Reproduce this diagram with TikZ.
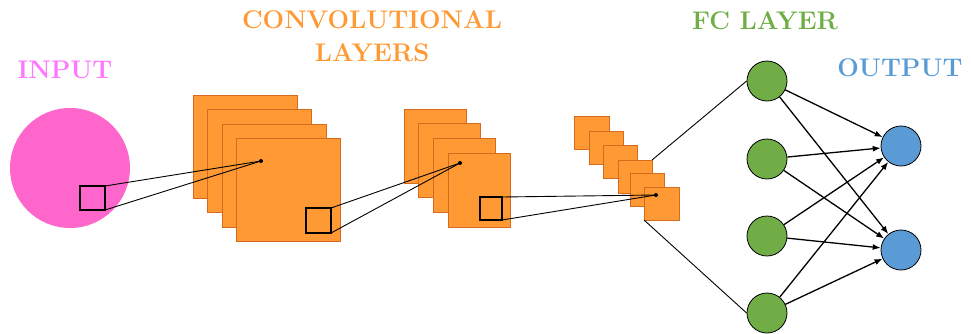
\documentclass[tikz,border=0pt]{standalone}
\usetikzlibrary{arrows.meta}
\definecolor{inpink}{RGB}{255,102,204}
\definecolor{inlabel}{RGB}{255,119,255}
\definecolor{convorange}{RGB}{255,153,51}
\definecolor{convedge}{RGB}{214,106,30}
\definecolor{fcgreen}{RGB}{112,173,71}
\definecolor{outblue}{RGB}{91,155,213}
\tikzset{
  fmap/.style={draw=convedge, fill=convorange, line width=0.8pt, inner sep=0pt, outer sep=0pt, anchor=north west, rectangle},
  kernel/.style={draw=black, line width=1.4pt, inner sep=0pt, outer sep=0pt, anchor=north west, rectangle},
  pdot/.style={circle, fill=black, inner sep=0pt, minimum size=4pt},
  link/.style={draw=black, line width=0.9pt},
  neuron/.style={circle, draw=black, line width=0.8pt, inner sep=0pt, minimum size=40pt},
  wire/.style={draw=black, line width=1.3pt, -{Latex[length=8pt,width=6pt]}},
  heading/.style={font=\fontsize{25.5}{30}\selectfont\bfseries, inner sep=0pt, anchor=base}
}
\begin{document}
\begin{tikzpicture}[x=1pt, y=-1pt]
\useasboundingbox (0,0) rectangle (971,333);

% headings
\node[heading, text=inlabel] (tin) at (65,78) {INPUT};
\node[heading, text=convorange] (tconv) at (372,28) {CONVOLUTIONAL};
\node[heading, text=convorange] (tlay) at (372,61.5) {LAYERS};
\node[heading, text=fcgreen] (tfc) at (765,29) {FC LAYER};
\node[heading, text=outblue] (tout) at (900,76) {OUTPUT};

% input image
\node[circle, fill=inpink, minimum size=120pt, inner sep=0pt] (img) at (70,168) {};
\node[kernel, minimum width=25pt, minimum height=24pt] (k0) at (80,186) {};

% first convolutional layer
\foreach \i in {0,1,2,3}
  \node[fmap, minimum width=104pt, minimum height=103pt] (a\i) at ({193+14.6*\i},{95+14.5*\i}) {};
\node[pdot] (d1) at (261,161) {};
\node[kernel, minimum width=25pt, minimum height=25pt] (k1) at (306,208) {};

% second convolutional layer
\foreach \i in {0,1,2,3}
  \node[fmap, minimum width=62pt, minimum height=74pt] (b\i) at ({404+14.67*\i},{109+14.67*\i}) {};
\node[pdot] (d2) at (460,163) {};
\node[kernel, minimum width=22pt, minimum height=23pt] (k2) at (480,197) {};

% third convolutional layer
\node[fmap, minimum width=35pt, minimum height=33pt] (c0) at (574,116) {};
\node[fmap, minimum width=34pt, minimum height=33pt] (c1) at (589,131) {};
\node[fmap, minimum width=34pt, minimum height=33pt] (c2) at (603,145) {};
\node[fmap, minimum width=34pt, minimum height=33pt] (c3) at (618,160) {};
\node[fmap, minimum width=34pt, minimum height=33pt] (c4) at (630,173) {};
\node[fmap, minimum width=35pt, minimum height=33pt] (c5) at (644,187) {};
\node[pdot] (d3) at (656,195) {};

% receptive-field projections
\draw[link] (k0.north east) -- (d1.center);
\draw[link] (k0.south east) -- (d1.center);
\draw[link] (k1.north east) -- (d2.center);
\draw[link] (k1.south east) -- (d2.center);
\draw[link] (k2.north east) -- (d3.center);
\draw[link] (k2.south east) -- (d3.center);

% fully connected layer
\node[neuron, fill=fcgreen] (g1) at (767,81) {};
\node[neuron, fill=fcgreen] (g2) at (767,159) {};
\node[neuron, fill=fcgreen] (g3) at (767,236) {};
\node[neuron, fill=fcgreen] (g4) at (767,313) {};

% output layer
\node[neuron, fill=outblue] (o1) at (901,146) {};
\node[neuron, fill=outblue] (o2) at (901,250) {};

% flattening links
\draw[link] (c3.north east) -- (g1.west);
\draw[link] (c5.south west) -- (g4.west);

% dense connections
\foreach \g in {g1,g2,g3,g4}
  \foreach \o in {o1,o2}
    \draw[wire] (\g) -- (\o);
\end{tikzpicture}
\end{document}
